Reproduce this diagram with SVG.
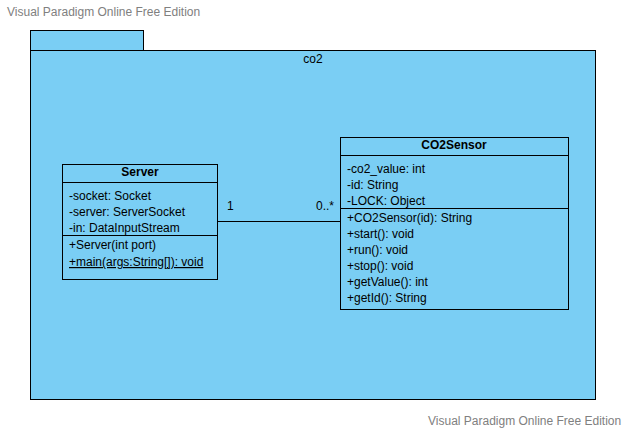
<svg xmlns="http://www.w3.org/2000/svg" width="626" height="430" viewBox="0 0 626 430">
<style>
.pkg{fill:#7acef4;stroke:#000;stroke-width:1}
.cls{fill:#7acef4;stroke:#000;stroke-width:1}
.ln{stroke:#000;stroke-width:1}
text{font-family:"Liberation Sans",Arial,sans-serif;font-size:12px;fill:#000}
.b{font-weight:bold}
.wm{fill:#808080;font-size:12px}
</style>
<text class="wm" x="7" y="16">Visual Paradigm Online Free Edition</text>
<text class="wm" x="428" y="425">Visual Paradigm Online Free Edition</text>
<g id="package-co2">
<rect class="pkg" x="30.5" y="30.5" width="113" height="20"/>
<rect class="pkg" x="30.5" y="50.5" width="565" height="349"/>
<text x="313" y="63" text-anchor="middle">co2</text>
</g>
<g id="connectors">
<line class="ln" x1="217" y1="221.5" x2="340" y2="221.5" stroke-width="1.5"/>
<text x="227" y="210">1</text>
<text x="316" y="210">0..*</text>
</g>
<g id="Server">
<rect class="cls" x="62.5" y="164.5" width="155" height="115"/>
<line class="ln" x1="62.5" y1="182.5" x2="217.5" y2="182.5"/>
<line class="ln" x1="62.5" y1="235.5" x2="217.5" y2="235.5"/>
<text class="b" x="140" y="176" text-anchor="middle">Server</text>
<text x="69" y="200">-socket: Socket</text>
<text x="69" y="216">-server: ServerSocket</text>
<text x="69" y="232">-in: DataInputStream</text>
<text x="69" y="249">+Server(int port)</text>
<text x="69" y="266" text-decoration="underline">+main(args:String[]): void</text>
</g>
<g id="CO2Sensor">
<rect class="cls" x="340.5" y="137.5" width="228" height="172"/>
<line class="ln" x1="340.5" y1="155.5" x2="568.5" y2="155.5"/>
<line class="ln" x1="340.5" y1="208.5" x2="568.5" y2="208.5"/>
<text class="b" x="454" y="149" text-anchor="middle">CO2Sensor</text>
<text x="347" y="173">-co2_value: int</text>
<text x="347" y="189">-id: String</text>
<text x="347" y="205">-LOCK: Object</text>
<text x="347" y="222">+CO2Sensor(id): String</text>
<text x="347" y="238">+start(): void</text>
<text x="347" y="254">+run(): void</text>
<text x="347" y="270">+stop(): void</text>
<text x="347" y="286">+getValue(): int</text>
<text x="347" y="302">+getId(): String</text>
</g>
</svg>
